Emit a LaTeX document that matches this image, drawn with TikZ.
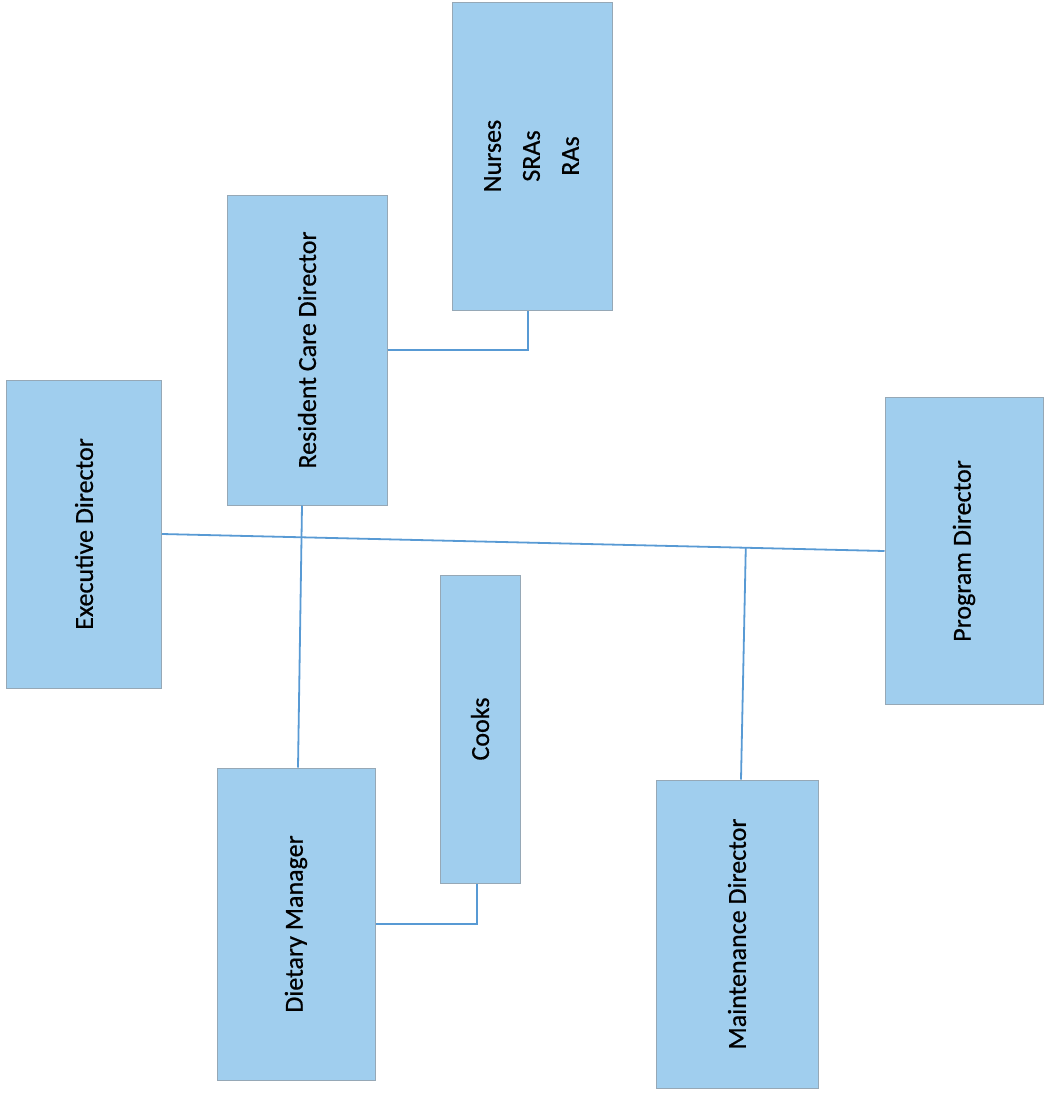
\documentclass[tikz,border=0pt]{standalone}
\usepackage{fontspec}
\setmainfont{Carlito}[FakeBold=0.6]
\usepackage{graphicx}
\definecolor{boxfill}{RGB}{160,206,238}
\definecolor{boxline}{RGB}{150,168,182}
\definecolor{conn}{RGB}{88,154,212}
\begin{document}
\begin{tikzpicture}[x=1pt,y=-1pt,
  orgbox/.style={draw=boxline, line width=1pt, fill=boxfill, inner sep=0pt,
    font=\fontsize{26}{39}\selectfont},
  link/.style={draw=conn, line width=1.8pt}]
\useasboundingbox (0,0) rectangle (1045,1093);
\node[orgbox, minimum width=155, minimum height=308] (exec) at (84,534) {\rotatebox{90}{Executive Director}};
\node[orgbox, minimum width=160, minimum height=310] (rcd) at (307,350) {\rotatebox{90}{Resident Care Director}};
\node[orgbox, minimum width=160, minimum height=308] (nurses) at (532,156) {\rotatebox{90}{\begin{tabular}{@{}c@{}}Nurses\\SRAs\\RAs\end{tabular}}};
\node[orgbox, minimum width=158, minimum height=307] (prog) at (964,551) {\rotatebox{90}{Program Director}};
\node[orgbox, minimum width=80, minimum height=308] (cooks) at (480,729) {\rotatebox{90}{Cooks}};
\node[orgbox, minimum width=158, minimum height=312] (diet) at (296,924) {\rotatebox{90}{Dietary Manager}};
\node[orgbox, minimum width=162, minimum height=308] (maint) at (737,934) {\rotatebox{90}{Maintenance Director}};
\path[link] (exec.east) -- (prog.west) coordinate[pos=0.808] (mj);
\path[link] ([xshift=-5pt]rcd.south) -- ([xshift=2pt]diet.north);
\path[link] (mj) -- ([xshift=4pt]maint.north);
\path[link] (rcd.east) -| ([xshift=-4pt]nurses.south);
\path[link] (diet.east) -| ([xshift=-3pt]cooks.south);
\end{tikzpicture}
\end{document}
